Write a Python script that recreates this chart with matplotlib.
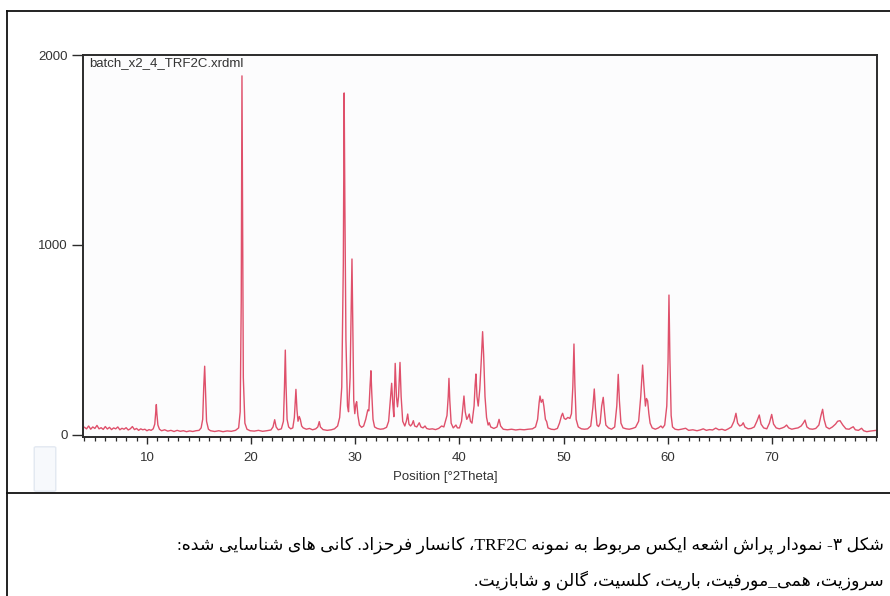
import re
import matplotlib
matplotlib.use("Agg")
import matplotlib.pyplot as plt
from matplotlib.lines import Line2D
from matplotlib.patches import FancyBboxPatch
from matplotlib.ticker import MultipleLocator, FixedLocator

# ====== data ======
two_theta = [
    4.0, 4.2, 4.4, 4.6, 4.8, 5.0, 5.2, 5.4, 5.6, 5.8, 6.0, 6.2, 6.4, 6.6, 6.8,
    7.0, 7.2, 7.4, 7.6, 7.8, 8.0, 8.2, 8.4, 8.6, 8.8, 9.0, 9.2, 9.4, 9.6, 9.8,
    10.0, 10.2, 10.4, 10.6, 10.75, 10.85, 10.9, 10.95, 11.05, 11.2,
    11.4, 11.7, 12.0, 12.3, 12.6, 12.9, 13.2, 13.5, 13.8, 14.1, 14.4, 14.7, 15.0, 15.2,
    15.35, 15.45, 15.54, 15.62, 15.72, 15.9,
    16.1, 16.5, 16.9, 17.3, 17.7, 18.1, 18.5, 18.8,
    18.95, 19.05, 19.12, 19.18, 19.25, 19.4, 19.6,
    19.9, 20.3, 20.7, 21.1, 21.5, 21.9,
    22.1, 22.26, 22.4, 22.6, 22.9, 23.1,
    23.2, 23.28, 23.35, 23.45, 23.6, 23.8, 24.0, 24.15,
    24.3, 24.4, 24.5, 24.62, 24.72, 24.85, 25.0, 25.3, 25.6, 25.9, 26.2, 26.4,
    26.54, 26.65, 26.9, 27.3, 27.7, 28.0, 28.3, 28.5, 28.7,
    28.85, 28.93, 29.0, 29.1, 29.25, 29.35, 29.5,
    29.6, 29.68, 29.75, 29.85, 29.95, 30.05, 30.13, 30.25, 30.4, 30.6, 30.8, 31.0, 31.2, 31.3,
    31.42, 31.5, 31.58, 31.7, 31.85, 32.1, 32.4, 32.7, 33.0, 33.2, 33.35,
    33.49, 33.6, 33.7, 33.83, 33.95, 34.05, 34.15, 34.29, 34.4, 34.55, 34.75, 34.9,
    35.03, 35.15, 35.3, 35.45, 35.57, 35.7, 35.9, 36.14, 36.3, 36.5, 36.69, 36.85,
    37.1, 37.4, 37.7, 38.0, 38.29, 38.5, 38.8,
    38.92, 38.99, 39.07, 39.2, 39.4, 39.66, 39.8, 40.0, 40.2, 40.3, 40.43, 40.55,
    40.7, 40.8, 40.94, 41.05, 41.2, 41.4, 41.5, 41.58, 41.68, 41.8, 41.95, 42.1,
    42.22, 42.32, 42.45, 42.6, 42.75, 42.86, 43.0, 43.3, 43.6, 43.8, 43.95, 44.2,
    44.6, 45.0, 45.4, 45.8, 46.2, 46.6, 47.0, 47.3, 47.5, 47.65,
    47.73, 47.85, 48.0, 48.1, 48.25, 48.37, 48.5, 48.8, 49.1, 49.4, 49.6, 49.8,
    49.9, 50.05, 50.2, 50.4, 50.6, 50.75, 50.88,
    50.99, 51.08, 51.2, 51.4, 51.7, 52.0, 52.3, 52.6, 52.8, 52.94, 53.05, 53.2,
    53.35, 53.5, 53.65, 53.8, 53.92, 54.05, 54.3, 54.6, 54.9, 55.1, 55.24, 55.35,
    55.5, 55.7, 56.0, 56.3, 56.6, 56.9, 57.2, 57.4,
    57.58, 57.7, 57.85, 57.95, 58.06, 58.18, 58.3, 58.5, 58.8, 59.1, 59.34, 59.5,
    59.7, 59.9, 60.02, 60.11, 60.2, 60.32, 60.45, 60.7, 61.0, 61.3, 61.71, 62.0,
    62.4, 62.8, 63.1, 63.4, 63.7, 64.0, 64.3, 64.6, 64.9, 65.2, 65.5, 65.8,
    66.1, 66.35, 66.54, 66.7, 66.9, 67.1, 67.24, 67.4, 67.7, 68.0, 68.3, 68.55,
    68.78, 68.95, 69.2, 69.5, 69.75, 69.97, 70.15, 70.4, 70.7, 71.0, 71.2, 71.4,
    71.6, 71.9, 72.2, 72.5, 72.8, 73.0, 73.17, 73.35, 73.6, 73.9, 74.2, 74.5,
    74.7, 74.86, 75.0, 75.2, 75.5, 75.8, 76.1, 76.3, 76.53, 76.8, 77.1, 77.4,
    77.6, 77.8, 78.0, 78.3, 78.6, 78.8, 79.1, 79.4, 79.7, 80.0,
]
counts = [
    38, 30, 45, 28, 40, 32, 48, 30, 36, 27, 42, 29, 38, 26, 35,
    30, 40, 25, 33, 28, 36, 24, 30, 42, 26, 32, 22, 30, 25, 28,
    20, 26, 22, 30, 55, 120, 158, 110, 50, 28,
    20, 25, 18, 22, 16, 22, 17, 20, 15, 19, 16, 20, 22, 35,
    80, 250, 360, 230, 70, 28,
    20, 16, 20, 15, 19, 17, 22, 35,
    120, 700, 1890, 1200, 300, 60, 28,
    20, 18, 22, 17, 20, 24,
    40, 78, 40, 25, 30, 70,
    250, 445, 260, 80, 40, 30, 35, 90,
    238, 130, 70, 95, 80, 45, 35, 28, 32, 25, 30, 40,
    68, 40, 26, 22, 25, 30, 45, 90, 250,
    900, 1800, 1200, 500, 150, 120, 300,
    650, 925, 600, 180, 110, 160, 173, 100, 50, 38, 45, 80, 130, 125,
    260, 336, 220, 80, 40, 32, 28, 30, 38, 70, 170,
    270, 160, 94, 375, 200, 146, 200, 380, 200, 70, 45, 70,
    108, 55, 45, 55, 73, 45, 40, 62, 40, 35, 45, 32,
    28, 30, 26, 32, 45, 40, 100,
    200, 296, 180, 60, 35, 50, 35, 35, 70, 130, 203, 120,
    80, 90, 108, 70, 60, 150, 260, 319, 200, 150, 240, 400,
    542, 420, 200, 90, 50, 62, 40, 32, 40, 80, 45, 28,
    25, 28, 24, 27, 25, 28, 30, 40, 80, 170,
    203, 170, 185, 150, 80, 68, 35, 28, 26, 32, 60, 100,
    112, 85, 80, 90, 85, 110, 250,
    477, 260, 80, 40, 30, 28, 30, 45, 140, 240, 140, 50,
    42, 60, 150, 196, 120, 50, 35, 28, 40, 150, 317, 180,
    60, 35, 30, 28, 32, 38, 70, 200,
    366, 260, 150, 190, 178, 110, 60, 35, 28, 35, 45, 35,
    50, 150, 380, 735, 400, 100, 40, 28, 25, 28, 33, 22,
    25, 20, 24, 30, 22, 26, 24, 34, 25, 28, 22, 30,
    40, 70, 112, 60, 45, 50, 62, 40, 30, 32, 40, 70,
    103, 55, 35, 30, 60, 106, 55, 35, 30, 35, 40, 50,
    35, 28, 32, 35, 45, 60, 76, 40, 30, 28, 32, 50,
    100, 133, 80, 40, 30, 40, 55, 70, 73, 50, 30, 28,
    35, 41, 25, 22, 33, 20, 15, 18, 20, 22,
]
x_ticks = [10, 20, 30, 40, 50, 60, 70]
y_ticks = [0, 1000, 2000]
scan_name = "batch_x2_4_TRF2C.xrdml"
x_label = "Position [°2Theta]"
caption_lines = [
    "شکل ۳- نمودار پراش اشعه ایکس مربوط به نمونه TRF2C، کانسار فرحزاد. کانی های شناسایی شده:",
    "سروزیت، همی_مورفیت، باریت، کلسیت، گالن و شابازیت.",
]

# ====== simple Persian shaping (matplotlib has no bidi / shaping) ======
# letter: (isolated, final, initial, medial); None for right-joining letters
FORMS = {
    "ا": ("\uFE8D", "\uFE8E", None, None),
    "ب": ("\uFE8F", "\uFE90", "\uFE91", "\uFE92"),
    "پ": ("\uFB56", "\uFB57", "\uFB58", "\uFB59"),
    "ت": ("\uFE95", "\uFE96", "\uFE97", "\uFE98"),
    "ح": ("\uFEA1", "\uFEA2", "\uFEA3", "\uFEA4"),
    "د": ("\uFEA9", "\uFEAA", None, None),
    "ر": ("\uFEAD", "\uFEAE", None, None),
    "ز": ("\uFEAF", "\uFEB0", None, None),
    "س": ("\uFEB1", "\uFEB2", "\uFEB3", "\uFEB4"),
    "ش": ("\uFEB5", "\uFEB6", "\uFEB7", "\uFEB8"),
    "ط": ("\uFEC1", "\uFEC2", "\uFEC3", "\uFEC4"),
    "ع": ("\uFEC9", "\uFECA", "\uFECB", "\uFECC"),
    "ف": ("\uFED1", "\uFED2", "\uFED3", "\uFED4"),
    "ک": ("\uFB8E", "\uFB8F", "\uFB90", "\uFB91"),
    "گ": ("\uFB92", "\uFB93", "\uFB94", "\uFB95"),
    "ل": ("\uFEDD", "\uFEDE", "\uFEDF", "\uFEE0"),
    "م": ("\uFEE1", "\uFEE2", "\uFEE3", "\uFEE4"),
    "ن": ("\uFEE5", "\uFEE6", "\uFEE7", "\uFEE8"),
    "ه": ("\uFEE9", "\uFEEA", "\uFEEB", "\uFEEC"),
    "و": ("\uFEED", "\uFEEE", None, None),
    "ی": ("\uFBFC", "\uFBFD", "\uFBFE", "\uFBFF"),
}


def dual(c):
    return c in FORMS and FORMS[c][2] is not None


def shape_fa(text):
    out = []
    for i, c in enumerate(text):
        if c not in FORMS:
            out.append(c)
            continue
        prev = text[i - 1] if i > 0 else ""
        nxt = text[i + 1] if i + 1 < len(text) else ""
        join_prev = dual(prev)
        join_next = dual(c) and nxt in FORMS
        iso, fin, ini, med = FORMS[c]
        if join_prev and join_next:
            out.append(med)
        elif join_prev:
            out.append(fin)
        elif join_next:
            out.append(ini)
        else:
            out.append(iso)
    rev = "".join(out)[::-1]
    # keep latin runs left-to-right
    return re.sub(r"[A-Za-z0-9]+", lambda m: m.group(0)[::-1], rev)


# ====== figure ======
fig = plt.figure(figsize=(8.9, 5.96), dpi=100, facecolor="white")

# table cell borders around the scanned chart
border = dict(color="#111111", linewidth=1.3, transform=fig.transFigure)
fig.add_artist(Line2D([7 / 890, 1.0], [1 - 11 / 596, 1 - 11 / 596], **border))
fig.add_artist(Line2D([7 / 890, 7 / 890], [0.0, 1 - 11 / 596], **border))
fig.add_artist(Line2D([7 / 890, 1.0], [1 - 493 / 596, 1 - 493 / 596], **border))

# faint stamp mark left on the scan
fig.add_artist(FancyBboxPatch((36 / 890, 1 - 490 / 596), 18 / 890, 42 / 596,
                              boxstyle="round,pad=0.002", transform=fig.transFigure,
                              facecolor="#f7f9fc", edgecolor="#e2e8f1", linewidth=1.0))

ax = fig.add_axes([83 / 890, 1 - 437 / 596, 794 / 890, 382 / 596])
ax.set_facecolor("#fcfcfd")
ax.plot(two_theta, counts, color="#df506b", linewidth=1.0)

ax.set_xlim(3.86, 80.08)
ax.set_ylim(-13, 2000)
ax.xaxis.set_major_locator(FixedLocator(x_ticks))
ax.xaxis.set_minor_locator(MultipleLocator(1))
ax.yaxis.set_major_locator(FixedLocator(y_ticks))

for s in ax.spines.values():
    s.set_color("#2b2b2b")
    s.set_linewidth(1.4)

ax.tick_params(axis="x", which="major", direction="out", length=5, width=1.0,
               color="#2b2b2b", labelsize=9.5, pad=6, labelcolor="#333333")
ax.tick_params(axis="x", which="minor", direction="out", length=3, width=0.9,
               color="#2b2b2b")
ax.tick_params(axis="y", which="major", direction="out", length=8, width=1.0,
               color="#2b2b2b", labelsize=9.5, pad=3, labelcolor="#333333")
for lab in ax.get_xticklabels() + ax.get_yticklabels():
    lab.set_family("Liberation Sans")

ax.text(0.0075, 0.995, scan_name, transform=ax.transAxes, ha="left", va="top",
        fontsize=9.5, family="Liberation Sans", color="#333333")

fig.text(445 / 890, 1 - 477 / 596, x_label, ha="center", va="center",
         fontsize=9.5, family="Liberation Sans", color="#333333")

# Persian caption
for i, line in enumerate(caption_lines):
    fig.text(884 / 890, 1 - (545 + 35 * i) / 596, shape_fa(line), ha="right",
             va="center", fontsize=12.5, family=["Liberation Serif", "DejaVu Sans"],
             color="black")

fig.savefig("out.png", dpi=100, facecolor=fig.get_facecolor())
